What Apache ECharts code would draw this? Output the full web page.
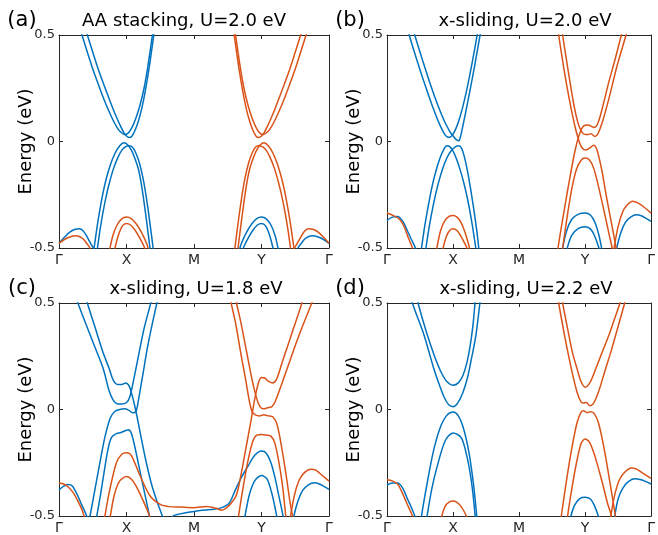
<!DOCTYPE html>
<html><head><meta charset="utf-8">
<script src="https://cdn.jsdelivr.net/npm/echarts@6/dist/echarts.min.js"></script>
<style>html,body{margin:0;padding:0;background:#fff}#c{width:658px;height:535px}</style>
</head><body><div id="c"></div>
<script>
// ---- axis labels / titles ----
const kTicks = [0, 1, 2, 3, 4];
const kLabels = ['Γ', 'X', 'M', 'Y', 'Γ'];
const eTicks = [-0.5, 0, 0.5];
const eLabels = ['-0.5', '0', '0.5'];
const panelTitles = ['AA stacking, U=2.0 eV', 'x-sliding, U=2.0 eV', 'x-sliding, U=1.8 eV', 'x-sliding, U=2.2 eV'];
const panelLetters = ['(a)', '(b)', '(c)', '(d)'];
const yName = 'Energy (eV)';

// ---- panel (a) bands: [k, E] ----
const aB1 = [[0.26,0.58],[0.34,0.5],[0.49,0.35],[0.59,0.262],[0.67,0.195],[0.75,0.135],[0.82,0.088],[0.88,0.056],[0.93,0.04],[0.97,0.033],[1.02,0.038],[1.08,0.065],[1.14,0.11],[1.2,0.17],[1.26,0.25],[1.32,0.36],[1.38,0.49],[1.42,0.58]];
const aB2 = [[0.34,0.58],[0.42,0.5],[0.57,0.35],[0.67,0.262],[0.75,0.195],[0.83,0.13],[0.9,0.08],[0.96,0.042],[1.0,0.026],[1.04,0.019],[1.08,0.025],[1.13,0.055],[1.18,0.1],[1.23,0.16],[1.28,0.24],[1.34,0.355],[1.4,0.49],[1.44,0.58]];
const aV1 = [[0.49,-0.57],[0.52,-0.5],[0.56,-0.41],[0.6,-0.33],[0.65,-0.245],[0.7,-0.175],[0.76,-0.11],[0.83,-0.055],[0.9,-0.02],[0.96,-0.006],[1.02,-0.016],[1.08,-0.045],[1.13,-0.085],[1.18,-0.135],[1.22,-0.2],[1.26,-0.285],[1.3,-0.38],[1.34,-0.48],[1.36,-0.53]];
const aV2 = [[0.54,-0.57],[0.57,-0.5],[0.61,-0.41],[0.65,-0.335],[0.7,-0.255],[0.75,-0.19],[0.81,-0.125],[0.88,-0.07],[0.94,-0.037],[0.99,-0.024],[1.04,-0.02],[1.09,-0.027],[1.14,-0.055],[1.19,-0.1],[1.24,-0.165],[1.28,-0.235],[1.32,-0.32],[1.36,-0.415],[1.39,-0.49],[1.41,-0.55]];
const aO1 = [[0.72,-0.55],[0.755,-0.5],[0.8,-0.44],[0.86,-0.392],[0.93,-0.363],[1.0,-0.355],[1.07,-0.362],[1.14,-0.385],[1.22,-0.425],[1.28,-0.465],[1.32,-0.5],[1.35,-0.54]];
const aO2 = [[0.8,-0.55],[0.83,-0.5],[0.88,-0.44],[0.94,-0.396],[1.0,-0.385],[1.06,-0.392],[1.13,-0.418],[1.2,-0.455],[1.27,-0.5],[1.3,-0.53]];
const aBG1 = [[0,-0.478],[0.08,-0.45],[0.16,-0.425],[0.24,-0.412],[0.3,-0.41],[0.36,-0.42],[0.42,-0.45],[0.47,-0.48],[0.51,-0.5],[0.54,-0.53]];
const aOG1 = [[0,-0.478],[0.08,-0.46],[0.16,-0.448],[0.24,-0.443],[0.3,-0.446],[0.36,-0.458],[0.41,-0.478],[0.46,-0.5],[0.49,-0.53]];
const aOG2 = [[3.46,-0.53],[3.49,-0.5],[3.53,-0.478],[3.58,-0.45],[3.64,-0.42],[3.7,-0.41],[3.76,-0.412],[3.84,-0.425],[3.92,-0.45],[4,-0.478]];
const aBG2 = [[3.51,-0.53],[3.54,-0.5],[3.59,-0.478],[3.64,-0.458],[3.7,-0.446],[3.76,-0.443],[3.84,-0.448],[3.92,-0.46],[4,-0.478]];
const aOC1 = [[2.58,0.58],[2.62,0.49],[2.68,0.36],[2.74,0.25],[2.8,0.17],[2.86,0.11],[2.92,0.065],[2.98,0.038],[3.03,0.033],[3.07,0.04],[3.12,0.056],[3.18,0.088],[3.25,0.135],[3.33,0.195],[3.41,0.262],[3.51,0.35],[3.66,0.5],[3.74,0.58]];
const aOC2 = [[2.56,0.58],[2.6,0.49],[2.66,0.355],[2.72,0.24],[2.77,0.16],[2.82,0.1],[2.87,0.055],[2.92,0.025],[2.96,0.019],[3.0,0.026],[3.04,0.042],[3.1,0.08],[3.17,0.13],[3.25,0.195],[3.33,0.262],[3.43,0.35],[3.58,0.5],[3.66,0.58]];
const aOV1 = [[2.64,-0.53],[2.66,-0.48],[2.7,-0.38],[2.74,-0.285],[2.78,-0.2],[2.82,-0.135],[2.87,-0.085],[2.92,-0.045],[2.98,-0.016],[3.04,-0.006],[3.1,-0.02],[3.17,-0.055],[3.24,-0.11],[3.3,-0.175],[3.35,-0.245],[3.4,-0.33],[3.44,-0.41],[3.48,-0.5],[3.51,-0.57]];
const aOV2 = [[2.59,-0.55],[2.61,-0.49],[2.64,-0.415],[2.68,-0.32],[2.72,-0.235],[2.76,-0.165],[2.81,-0.1],[2.86,-0.055],[2.91,-0.027],[2.96,-0.02],[3.01,-0.024],[3.06,-0.037],[3.12,-0.07],[3.19,-0.125],[3.25,-0.19],[3.3,-0.255],[3.35,-0.335],[3.39,-0.41],[3.43,-0.5],[3.46,-0.57]];
const aBV1 = [[2.65,-0.54],[2.68,-0.5],[2.72,-0.465],[2.78,-0.425],[2.86,-0.385],[2.93,-0.362],[3.0,-0.355],[3.07,-0.363],[3.14,-0.392],[3.2,-0.44],[3.245,-0.5],[3.28,-0.55]];
const aBV2 = [[2.7,-0.53],[2.73,-0.5],[2.8,-0.455],[2.87,-0.418],[2.94,-0.392],[3.0,-0.385],[3.06,-0.396],[3.12,-0.44],[3.17,-0.5],[3.2,-0.55]];

// ---- panel (b) ----
const bB1 = [[0.27,0.58],[0.336,0.5],[0.45,0.385],[0.56,0.28],[0.66,0.19],[0.75,0.115],[0.82,0.065],[0.87,0.036],[0.91,0.022],[0.95,0.02],[0.99,0.03],[1.04,0.058],[1.09,0.1],[1.15,0.165],[1.22,0.26],[1.29,0.37],[1.36,0.49],[1.4,0.57]];
const bB2 = [[0.35,0.58],[0.42,0.5],[0.54,0.38],[0.66,0.265],[0.77,0.17],[0.87,0.095],[0.95,0.048],[1.01,0.022],[1.05,0.009],[1.086,0.003],[1.115,0.025],[1.15,0.075],[1.2,0.15],[1.26,0.245],[1.33,0.36],[1.41,0.5],[1.45,0.57]];
const bV1 = [[0.49,-0.57],[0.523,-0.5],[0.57,-0.4],[0.62,-0.31],[0.68,-0.215],[0.74,-0.14],[0.8,-0.08],[0.86,-0.037],[0.904,-0.02],[0.95,-0.024],[1.0,-0.045],[1.05,-0.08],[1.1,-0.125],[1.16,-0.19],[1.22,-0.27],[1.28,-0.37],[1.34,-0.49],[1.36,-0.54]];
const bV2 = [[0.56,-0.57],[0.59,-0.5],[0.64,-0.4],[0.7,-0.3],[0.77,-0.205],[0.84,-0.13],[0.91,-0.075],[0.98,-0.04],[1.04,-0.024],[1.09,-0.02],[1.13,-0.032],[1.17,-0.07],[1.22,-0.14],[1.27,-0.23],[1.32,-0.33],[1.36,-0.42],[1.39,-0.5],[1.41,-0.56]];
const bO1 = [[0.72,-0.56],[0.755,-0.5],[0.81,-0.42],[0.87,-0.375],[0.94,-0.352],[1.0,-0.348],[1.06,-0.355],[1.12,-0.38],[1.18,-0.425],[1.25,-0.5],[1.28,-0.55]];
const bO2 = [[0.82,-0.55],[0.85,-0.5],[0.9,-0.445],[0.95,-0.418],[1.0,-0.41],[1.06,-0.418],[1.12,-0.445],[1.18,-0.48],[1.21,-0.5],[1.24,-0.54]];
const bBG1 = [[0,-0.37],[0.08,-0.355],[0.16,-0.352],[0.24,-0.375],[0.31,-0.42],[0.37,-0.46],[0.43,-0.5],[0.45,-0.53]];
const bOG1 = [[0,-0.336],[0.1,-0.348],[0.19,-0.365],[0.26,-0.4],[0.32,-0.45],[0.385,-0.5],[0.41,-0.53]];
const bOG2 = [[3.42,-0.55],[3.44,-0.5],[3.5,-0.4],[3.57,-0.33],[3.64,-0.297],[3.72,-0.28],[3.8,-0.288],[3.9,-0.31],[4.0,-0.336]];
const bBG2 = [[3.46,-0.55],[3.48,-0.5],[3.54,-0.43],[3.61,-0.38],[3.69,-0.355],[3.78,-0.344],[3.86,-0.35],[3.93,-0.362],[4.0,-0.375]];
const bOC1 = [[2.56,-0.58],[2.59,-0.5],[2.68,-0.33],[2.77,-0.17],[2.85,-0.04],[2.91,0.03],[2.96,0.066],[3.0,0.076],[3.05,0.078],[3.1,0.07],[3.14,0.066],[3.2,0.09],[3.28,0.18],[3.36,0.28],[3.45,0.38],[3.55,0.5],[3.6,0.56]];
const bOC2 = [[2.63,0.56],[2.66,0.5],[2.74,0.34],[2.82,0.19],[2.89,0.09],[2.95,0.045],[3.0,0.033],[3.05,0.033],[3.09,0.036],[3.15,0.024],[3.2,0.04],[3.27,0.1],[3.36,0.2],[3.48,0.35],[3.62,0.5],[3.66,0.55]];
const bOV1 = [[2.57,0.56],[2.6,0.5],[2.68,0.34],[2.76,0.2],[2.84,0.08],[2.9,0.01],[2.95,-0.028],[3.01,-0.04],[3.07,-0.03],[3.13,-0.018],[3.18,-0.04],[3.25,-0.13],[3.33,-0.27],[3.41,-0.4],[3.47,-0.5],[3.5,-0.56]];
const bOV2 = [[2.63,-0.57],[2.66,-0.5],[2.73,-0.35],[2.8,-0.22],[2.87,-0.13],[2.94,-0.088],[3.0,-0.078],[3.06,-0.085],[3.13,-0.125],[3.21,-0.22],[3.29,-0.33],[3.36,-0.43],[3.41,-0.5],[3.44,-0.56]];
const bBV1 = [[2.63,-0.56],[2.66,-0.5],[2.72,-0.42],[2.8,-0.365],[2.9,-0.341],[3.0,-0.336],[3.08,-0.345],[3.15,-0.38],[3.21,-0.44],[3.25,-0.5],[3.28,-0.55]];
const bBV2 = [[2.7,-0.55],[2.73,-0.5],[2.8,-0.44],[2.9,-0.408],[3.0,-0.4],[3.08,-0.41],[3.14,-0.44],[3.21,-0.5],[3.24,-0.54]];

// ---- panel (c) ----
const cB1 = [[0.38,0.55],[0.42,0.5],[0.54,0.38],[0.65,0.27],[0.746,0.19],[0.8,0.14],[0.86,0.118],[0.93,0.117],[0.99,0.125],[1.04,0.11],[1.08,0.07],[1.12,0.02],[1.16,-0.04],[1.21,-0.12],[1.28,-0.23],[1.37,-0.35],[1.45,-0.43],[1.53,-0.5],[1.57,-0.54]];
const cB2 = [[0.24,0.54],[0.28,0.5],[0.4,0.4],[0.53,0.295],[0.657,0.19],[0.74,0.09],[0.8,0.045],[0.86,0.027],[0.93,0.026],[1.0,0.033],[1.05,0.06],[1.1,0.13],[1.17,0.24],[1.26,0.38],[1.36,0.5],[1.4,0.55]];
const cB3 = [[0.43,-0.55],[0.46,-0.5],[0.53,-0.38],[0.6,-0.26],[0.68,-0.13],[0.76,-0.04],[0.83,-0.008],[0.9,0.0],[0.97,0.003],[1.03,-0.003],[1.09,-0.015],[1.14,-0.01],[1.18,0.05],[1.24,0.16],[1.31,0.29],[1.38,0.4],[1.45,0.5],[1.49,0.56]];
const cB4 = [[0.53,-0.55],[0.56,-0.5],[0.62,-0.39],[0.68,-0.27],[0.73,-0.18],[0.78,-0.13],[0.85,-0.113],[0.92,-0.108],[0.98,-0.1],[1.03,-0.095],[1.07,-0.11],[1.12,-0.17],[1.18,-0.26],[1.26,-0.38],[1.34,-0.5],[1.37,-0.55]];
const cO1 = [[0.65,-0.56],[0.68,-0.5],[0.75,-0.38],[0.85,-0.25],[0.93,-0.21],[1.0,-0.203],[1.07,-0.215],[1.2,-0.31],[1.35,-0.406],[1.5,-0.445],[1.64,-0.456],[1.79,-0.458],[1.99,-0.461],[2.19,-0.455],[2.33,-0.464],[2.41,-0.473],[2.48,-0.462],[2.55,-0.44],[2.63,-0.4],[2.7,-0.3],[2.77,-0.18],[2.84,-0.06],[2.9,0.05],[2.96,0.13],[3.0,0.15],[3.05,0.148],[3.1,0.133],[3.16,0.125],[3.22,0.14],[3.3,0.215],[3.4,0.31],[3.5,0.405],[3.6,0.5],[3.64,0.54]];
const cO2 = [[0.73,-0.55],[0.76,-0.5],[0.82,-0.4],[0.9,-0.335],[1.0,-0.315],[1.08,-0.33],[1.16,-0.37],[1.25,-0.43],[1.33,-0.49],[1.36,-0.52]];
const cOC2 = [[2.6,0.55],[2.63,0.5],[2.7,0.4],[2.78,0.27],[2.86,0.14],[2.93,0.05],[2.98,0.012],[3.03,0.003],[3.09,0.008],[3.15,0.0125],[3.2,0.035],[3.3,0.12],[3.4,0.21],[3.5,0.3],[3.6,0.385],[3.745,0.5],[3.79,0.54]];
const cOC3 = [[2.52,0.55],[2.55,0.5],[2.62,0.4],[2.69,0.27],[2.76,0.15],[2.82,0.04],[2.86,-0.01],[2.91,-0.025],[2.97,-0.03],[3.03,-0.025],[3.1,-0.03],[3.17,-0.035],[3.23,-0.07],[3.3,-0.18],[3.37,-0.32],[3.42,-0.43],[3.46,-0.5],[3.49,-0.55]];
const cOC4 = [[2.63,-0.56],[2.66,-0.5],[2.72,-0.38],[2.8,-0.24],[2.87,-0.15],[2.93,-0.12],[3.0,-0.117],[3.07,-0.12],[3.14,-0.125],[3.2,-0.16],[3.27,-0.27],[3.32,-0.38],[3.36,-0.5],[3.39,-0.55]];
const cBY1 = [[1.62,-0.53],[1.69,-0.5],[1.79,-0.49],[1.89,-0.484],[2.09,-0.474],[2.25,-0.47],[2.4,-0.462],[2.52,-0.44],[2.61,-0.38],[2.7,-0.32],[2.8,-0.266],[2.9,-0.215],[3.0,-0.195],[3.07,-0.205],[3.14,-0.25],[3.2,-0.32],[3.26,-0.41],[3.32,-0.5],[3.35,-0.55]];
const cBY2 = [[2.73,-0.54],[2.755,-0.5],[2.82,-0.4],[2.9,-0.335],[3.0,-0.31],[3.08,-0.325],[3.15,-0.39],[3.2,-0.46],[3.225,-0.5],[3.25,-0.54]];
const cOG1 = [[0,-0.345],[0.07,-0.35],[0.14,-0.365],[0.21,-0.39],[0.28,-0.43],[0.34,-0.47],[0.37,-0.5],[0.39,-0.53]];
const cBG1 = [[0,-0.378],[0.07,-0.36],[0.14,-0.352],[0.2,-0.36],[0.27,-0.4],[0.34,-0.45],[0.41,-0.5],[0.43,-0.53]];
const cOG2 = [[3.41,-0.55],[3.43,-0.5],[3.49,-0.4],[3.56,-0.33],[3.64,-0.295],[3.73,-0.28],[3.81,-0.286],[3.9,-0.31],[4.0,-0.336]];
const cBG2 = [[3.46,-0.55],[3.48,-0.5],[3.54,-0.43],[3.61,-0.38],[3.69,-0.355],[3.78,-0.344],[3.86,-0.35],[3.93,-0.362],[4.0,-0.375]];

// ---- panel (d) ----
const dB1 = [[0.43,0.56],[0.47,0.5],[0.6,0.36],[0.72,0.25],[0.82,0.175],[0.91,0.13],[1.0,0.114],[1.08,0.125],[1.15,0.16],[1.21,0.22],[1.26,0.3],[1.3,0.39],[1.333,0.5],[1.35,0.56]];
const dB2 = [[0.35,0.56],[0.385,0.5],[0.558,0.352],[0.706,0.195],[0.8,0.11],[0.87,0.055],[0.935,0.022],[1.0,0.013],[1.07,0.03],[1.15,0.08],[1.22,0.15],[1.28,0.24],[1.348,0.352],[1.407,0.5],[1.43,0.56]];
const dV1 = [[0.5,-0.56],[0.523,-0.5],[0.6,-0.36],[0.7,-0.2],[0.8,-0.09],[0.9,-0.03],[1.0,-0.012],[1.08,-0.03],[1.16,-0.09],[1.24,-0.2],[1.31,-0.35],[1.36,-0.5],[1.38,-0.56]];
const dV2 = [[0.58,-0.56],[0.607,-0.5],[0.68,-0.37],[0.755,-0.273],[0.88,-0.148],[1.0,-0.11],[1.126,-0.133],[1.21,-0.22],[1.26,-0.3],[1.3,-0.39],[1.335,-0.5],[1.35,-0.56]];
const dO1 = [[0.8,-0.55],[0.83,-0.5],[0.88,-0.455],[0.94,-0.435],[1.0,-0.43],[1.06,-0.436],[1.12,-0.455],[1.17,-0.48],[1.2,-0.5],[1.23,-0.54]];
const dOG1 = [[0,-0.33],[0.08,-0.335],[0.16,-0.35],[0.23,-0.39],[0.3,-0.44],[0.385,-0.5],[0.41,-0.54]];
const dBG1 = [[0,-0.355],[0.08,-0.345],[0.16,-0.345],[0.24,-0.37],[0.31,-0.42],[0.37,-0.46],[0.42,-0.5],[0.44,-0.53]];
const dOC1 = [[2.63,0.56],[2.66,0.5],[2.735,0.38],[2.81,0.266],[2.88,0.19],[2.94,0.13],[3.0,0.105],[3.08,0.13],[3.16,0.19],[3.26,0.27],[3.35,0.34],[3.44,0.42],[3.53,0.5],[3.57,0.54]];
const dOC2 = [[2.57,0.56],[2.6,0.5],[2.7,0.33],[2.8,0.18],[2.88,0.08],[2.94,0.035],[2.98,0.03],[3.02,0.033],[3.07,0.018],[3.12,0.025],[3.2,0.08],[3.3,0.18],[3.4,0.28],[3.5,0.39],[3.6,0.5],[3.64,0.55]];
const dOV1 = [[2.61,-0.56],[2.64,-0.5],[2.72,-0.33],[2.8,-0.18],[2.88,-0.06],[2.94,-0.012],[2.98,-0.006],[3.03,-0.015],[3.08,-0.01],[3.13,-0.016],[3.2,-0.06],[3.28,-0.17],[3.37,-0.33],[3.46,-0.5],[3.49,-0.56]];
const dOV2 = [[2.71,-0.56],[2.735,-0.5],[2.8,-0.37],[2.87,-0.25],[2.94,-0.16],[3.0,-0.138],[3.07,-0.155],[3.15,-0.22],[3.25,-0.33],[3.34,-0.44],[3.4,-0.5],[3.43,-0.55]];
const dBV1 = [[2.76,-0.55],[2.786,-0.5],[2.84,-0.45],[2.92,-0.418],[3.0,-0.412],[3.08,-0.42],[3.14,-0.45],[3.2,-0.5],[3.23,-0.54]];
const dOG2 = [[3.37,-0.55],[3.39,-0.5],[3.45,-0.4],[3.52,-0.33],[3.6,-0.295],[3.7,-0.275],[3.78,-0.28],[3.88,-0.3],[4.0,-0.323]];
const dBG2 = [[3.43,-0.55],[3.45,-0.5],[3.5,-0.42],[3.57,-0.37],[3.65,-0.34],[3.75,-0.325],[3.85,-0.33],[3.93,-0.34],[4.0,-0.35]];

// ---- grouping by panel and colour ----
const blueBands = [
  [aB1, aB2, aV1, aV2, aBG1, aBG2, aBV1, aBV2],
  [bB1, bB2, bV1, bV2, bBG1, bBG2, bBV1, bBV2],
  [cB1, cB2, cB3, cB4, cBG1, cBG2, cBY1, cBY2],
  [dB1, dB2, dV1, dV2, dBG1, dBG2, dBV1]
];
const orangeBands = [
  [aO1, aO2, aOG1, aOG2, aOC1, aOC2, aOV1, aOV2],
  [bO1, bO2, bOG1, bOG2, bOC1, bOC2, bOV1, bOV2],
  [cO1, cO2, cOG1, cOG2, cOC2, cOC3, cOC4],
  [dO1, dOG1, dOG2, dOC1, dOC2, dOV1, dOV2]
];

// ---- layout / style ----
const BLUE = '#0072BD', ORANGE = '#D95319', AX = '#262626';
const FONT = 'DejaVu Sans';
const gridPos = [
  {left: 59, top: 35}, {left: 387, top: 35},
  {left: 59, top: 303}, {left: 387, top: 303}
];
const GW = 270, GH = 213;
const titlePos = [[184, 21], [525, 21], [196, 289], [526, 289]];
const letterPos = [[22, 21], [350, 21], [22, 289], [350, 289]];

const chart = echarts.init(document.getElementById('c'), null, {renderer: 'canvas'});
const grid = [], xAxis = [], yAxis = [], series = [], graphic = [];

gridPos.forEach((g, i) => {
  grid.push({left: g.left, top: g.top, width: GW, height: GH, containLabel: false});
  const common = {
    gridIndex: i, type: 'value', splitLine: {show: false},
    axisLine: {show: true, onZero: false, lineStyle: {color: AX, width: 1}},
    axisTick: {show: true, inside: true, length: 4, lineStyle: {color: AX, width: 1}}
  };
  xAxis.push(Object.assign({}, common, {
    position: 'bottom', min: kTicks[0], max: kTicks[kTicks.length - 1], interval: 1,
    axisLabel: {show: true, margin: 5, color: AX, fontSize: 14, fontFamily: FONT,
      formatter: v => kLabels[kTicks.indexOf(Math.round(v))] || ''}
  }));
  xAxis.push(Object.assign({}, common, {
    position: 'top', min: kTicks[0], max: kTicks[kTicks.length - 1], interval: 1,
    axisLabel: {show: false}
  }));
  yAxis.push(Object.assign({}, common, {
    position: 'left', min: eTicks[0], max: eTicks[eTicks.length - 1], interval: 0.5,
    axisLabel: {show: true, margin: 4, color: AX, fontSize: 13, fontFamily: FONT,
      formatter: v => { const j = eTicks.findIndex(t => Math.abs(t - v) < 1e-9); return j >= 0 ? eLabels[j] : ''; }}
  }));
  yAxis.push(Object.assign({}, common, {
    position: 'right', min: eTicks[0], max: eTicks[eTicks.length - 1], interval: 0.5,
    axisLabel: {show: false}
  }));

  const mk = (d, c) => ({
    type: 'line', xAxisIndex: 2 * i, yAxisIndex: 2 * i, data: d,
    showSymbol: false, symbol: 'none', smooth: 0.3, clip: true, silent: true,
    lineStyle: {color: c, width: 1.5}, itemStyle: {color: c}, animation: false
  });
  blueBands[i].forEach(d => series.push(mk(d, BLUE)));
  orangeBands[i].forEach(d => series.push(mk(d, ORANGE)));

  graphic.push({type: 'text', x: titlePos[i][0], y: titlePos[i][1], silent: true,
    style: {text: panelTitles[i], fill: '#000', font: '18px "' + FONT + '"', textAlign: 'center', textVerticalAlign: 'middle'}});
  graphic.push({type: 'text', x: letterPos[i][0], y: letterPos[i][1], silent: true,
    style: {text: panelLetters[i], fill: '#000', font: '21px "' + FONT + '"', textAlign: 'center', textVerticalAlign: 'middle'}});
  graphic.push({type: 'text', x: g.left - 33, y: g.top + GH / 2, rotation: Math.PI / 2, silent: true,
    style: {text: yName, fill: '#000', font: '18px "' + FONT + '"', textAlign: 'center', textVerticalAlign: 'middle'}});
});

chart.setOption({animation: false, backgroundColor: '#fff', grid, xAxis, yAxis, series, graphic});
</script>
</body></html>
